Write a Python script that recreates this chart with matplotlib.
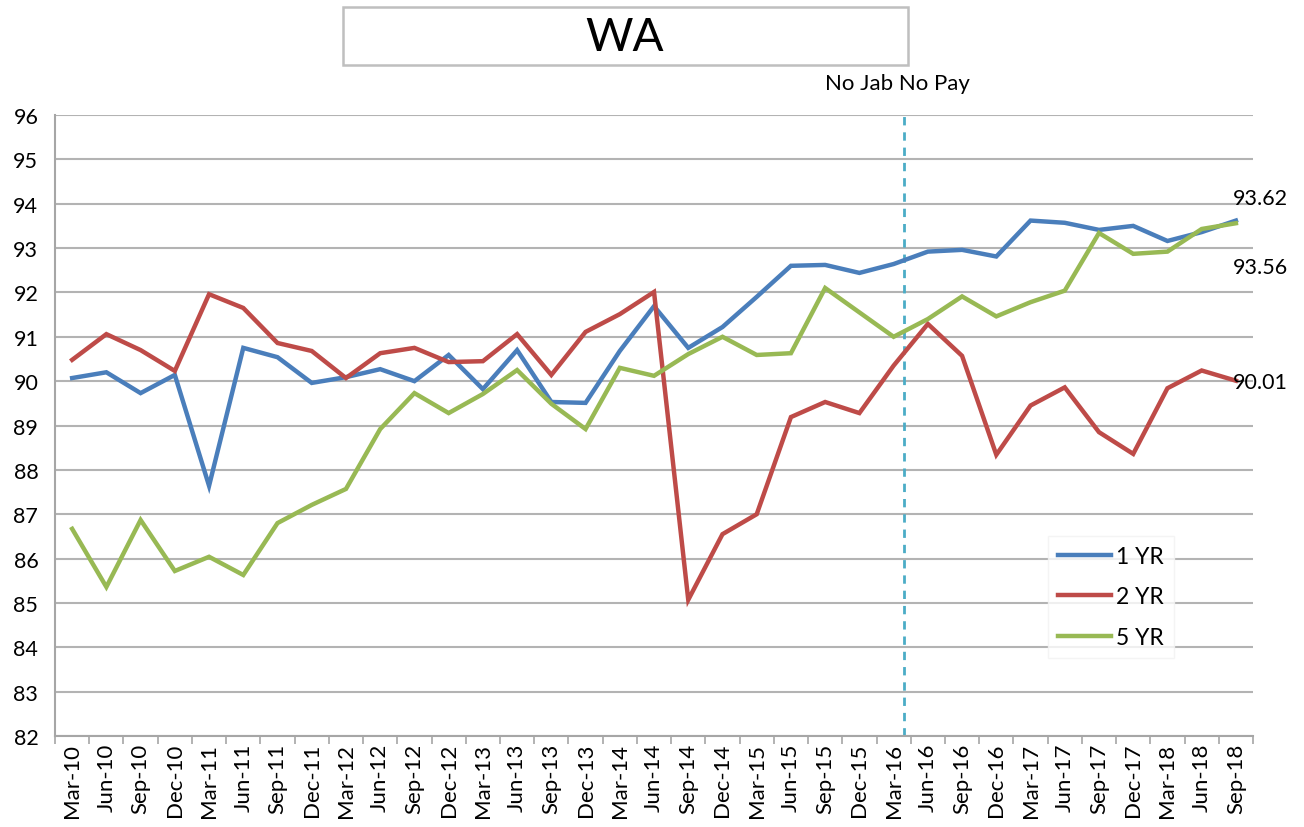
import matplotlib.pyplot as plt
from matplotlib.patches import Rectangle

plt.rcParams['font.family'] = ['Lato', 'DejaVu Sans']

# Quarterly labels
quarters = ['Mar-10', 'Jun-10', 'Sep-10', 'Dec-10', 'Mar-11', 'Jun-11', 'Sep-11', 'Dec-11',
            'Mar-12', 'Jun-12', 'Sep-12', 'Dec-12', 'Mar-13', 'Jun-13', 'Sep-13', 'Dec-13',
            'Mar-14', 'Jun-14', 'Sep-14', 'Dec-14', 'Mar-15', 'Jun-15', 'Sep-15', 'Dec-15',
            'Mar-16', 'Jun-16', 'Sep-16', 'Dec-16', 'Mar-17', 'Jun-17', 'Sep-17', 'Dec-17',
            'Mar-18', 'Jun-18', 'Sep-18']

# Coverage (%) by age group
yr1 = [90.07, 90.20, 89.73, 90.14, 87.64, 90.75, 90.54, 89.96, 90.09, 90.27, 90.00, 90.59,
       89.82, 90.70, 89.53, 89.51, 90.68, 91.69, 90.75, 91.22, 91.90, 92.60, 92.62, 92.44,
       92.64, 92.92, 92.96, 92.81, 93.62, 93.57, 93.41, 93.50, 93.16, 93.36, 93.62]
yr2 = [90.48, 91.06, 90.70, 90.23, 91.96, 91.65, 90.86, 90.68, 90.07, 90.63, 90.75, 90.43,
       90.45, 91.06, 90.14, 91.11, 91.51, 92.01, 85.07, 86.55, 87.00, 89.19, 89.53, 89.28,
       90.35, 91.29, 90.57, 88.34, 89.45, 89.86, 88.85, 88.36, 89.84, 90.24, 90.01]
yr5 = [86.67, 85.36, 86.87, 85.72, 86.04, 85.63, 86.80, 87.21, 87.57, 88.92, 89.73, 89.28,
       89.71, 90.25, 89.49, 88.92, 90.30, 90.12, 90.61, 91.00, 90.59, 90.63, 92.10, 91.55,
       91.00, 91.40, 91.91, 91.46, 91.78, 92.04, 93.34, 92.87, 92.92, 93.43, 93.56]

policy_x = 24.3  # No Jab No Pay marker, just after Mar-16

fig = plt.figure(figsize=(13.04, 8.28), dpi=100)
ax = fig.add_axes([0.0422, 0.1099, 0.9187, 0.75])

x = list(range(len(quarters)))
ax.plot(x, yr1, color='#4A7EBB', lw=3.2, label='1 YR', solid_joinstyle='miter')
ax.plot(x, yr2, color='#BE4B48', lw=3.2, label='2 YR', solid_joinstyle='miter')
ax.plot(x, yr5, color='#98B954', lw=3.2, label='5 YR', solid_joinstyle='miter')

ax.axvline(policy_x, color='#4BACC6', lw=2, ls=(0, (3, 2.5)), zorder=1)
ax.text(policy_x - 0.2, 96.5, 'No Jab No Pay', ha='center', va='bottom', fontsize=16)

ax.set_xlim(-0.5, len(quarters) - 0.5)
ax.set_ylim(82, 96)
ax.set_yticks(range(82, 97))
ax.grid(axis='y', color='#B3B3B3', lw=1.5)
ax.set_axisbelow(True)

ax.set_xticks(x)
ax.set_xticklabels(quarters, rotation=90, fontsize=16)
ax.set_xticks([i - 0.5 for i in range(len(quarters) + 1)], minor=True)
ax.tick_params(axis='x', which='major', length=0, pad=5)
ax.tick_params(axis='x', which='minor', length=6, color='#A6A6A6', width=1.2)
ax.tick_params(axis='y', length=0, labelsize=15.5, pad=12)

for side in ['top', 'right']:
    ax.spines[side].set_visible(False)
for side in ['left', 'bottom']:
    ax.spines[side].set_color('#A6A6A6')
    ax.spines[side].set_linewidth(1.5)

# end-of-series value labels
ax.text(33.9, 94.13, '93.62', fontsize=15.5, va='center', ha='left')
ax.text(33.9, 92.57, '93.56', fontsize=15.5, va='center', ha='left')
ax.text(33.9, 89.98, '90.01', fontsize=15.5, va='center', ha='left')

leg = ax.legend(loc='center', bbox_to_anchor=(0.8815, 0.224),
                fontsize=16.5, frameon=True, fancybox=False,
                handlelength=2.3, labelspacing=0.85, borderpad=0.45, handletextpad=0.25)
leg.get_frame().set_edgecolor('#F2F2F2')
leg.get_frame().set_linewidth(1)

# title box
fig.patches.append(Rectangle((343 / 1304, 1 - 66 / 828), 565 / 1304, 58 / 828,
                             transform=fig.transFigure, facecolor='white',
                             edgecolor='#BFBFBF', lw=1.8))
fig.text(625 / 1304, 1 - 38 / 828, 'WA', ha='center', va='center', fontsize=33)

fig.savefig('out.png', dpi=100)
